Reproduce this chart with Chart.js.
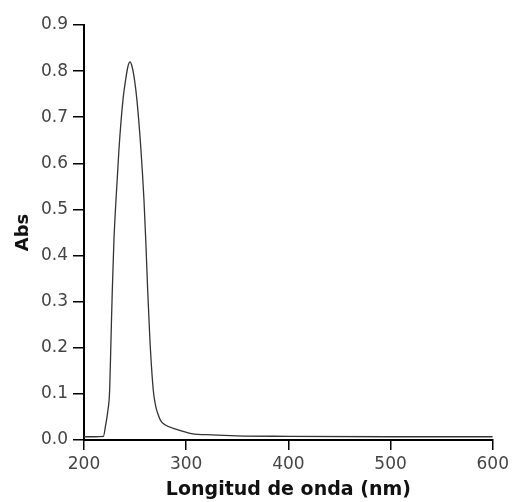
<!DOCTYPE html>
<html lang="es">
<head>
	<meta charset="utf-8">
	<title>Espectro UV-Vis</title>
	<script src="https://cdn.jsdelivr.net/npm/chart.js"></script>
	<style>
		html, body {margin: 0; padding: 0; background: #fff;}
		#caja {width: 513px; height: 502px;}
	</style>
</head>
<body>
	<div id="caja">
		<canvas id="grafico" width="513" height="502"></canvas>
	</div>

<script>
	// longitud de onda (nm) y absorbancia
	const longitud = [200, 210, 219, 221, 223.2, 225.1, 226.4, 227.7, 229.3, 231.3, 234.2, 238.1, 241, 243, 245, 247, 249.5, 251.8, 255.7, 258.7, 260.5, 262.3, 264.5, 267.8, 270, 272.1, 275, 279.2, 292, 305.3, 325, 350, 400, 500, 600];
	const absorbancia = [0.007, 0.007, 0.008, 0.03, 0.061, 0.108, 0.217, 0.325, 0.434, 0.52, 0.63, 0.737, 0.785, 0.81, 0.82, 0.81, 0.78, 0.737, 0.63, 0.52, 0.43, 0.325, 0.217, 0.108, 0.075, 0.058, 0.042, 0.033, 0.022, 0.014, 0.011, 0.009, 0.008, 0.007, 0.007];
	const ticks_x = [200, 300, 400, 500, 600];
	const ticks_y = [0, 0.1, 0.2, 0.3, 0.4, 0.5, 0.6, 0.7, 0.8, 0.9];

	let puntos = [];
	for (let i = 0; i < longitud.length; i++) {
		puntos.push({x: longitud[i], y: absorbancia[i]});
	}

	const fuente = "'DejaVu Sans', sans-serif";

	new Chart(document.getElementById('grafico'), {
		type: 'line',
		data: {
			datasets: [{
				label: 'Abs',
				data: puntos,
				borderColor: '#333',
				borderWidth: 1.3,
				pointRadius: 0,
				cubicInterpolationMode: 'monotone',
				fill: false
			}]
		},
		options: {
			responsive: false,
			animation: false,
			layout: {padding: {top: 25, right: 20, bottom: 0, left: 0}},
			plugins: {legend: {display: false}, tooltip: {enabled: false}},
			scales: {
				x: {
					type: 'linear',
					min: 200, max: 600,
					afterBuildTicks: function(s) { s.ticks = ticks_x.map(v => ({value: v})); },
					afterFit: function(s) { s.height = 62; },
					grid: {drawOnChartArea: false, drawTicks: true, tickLength: 10, color: '#000', lineWidth: 1.5},
					border: {display: true, color: '#000', width: 2},
					ticks: {color: '#444', padding: 4, maxRotation: 0, font: {family: fuente, size: 17}},
					title: {display: true, text: 'Longitud de onda (nm)', color: '#111', padding: {top: 0, bottom: 1}, font: {family: fuente, size: 19, weight: 'bold'}}
				},
				y: {
					min: 0, max: 0.9,
					afterBuildTicks: function(s) { s.ticks = ticks_y.map(v => ({value: v})); },
					afterFit: function(s) { s.width = 84; },
					grid: {drawOnChartArea: false, drawTicks: true, tickLength: 11, color: '#000', lineWidth: 1.5},
					border: {display: true, color: '#000', width: 2},
					ticks: {
						color: '#444', padding: 5, font: {family: fuente, size: 17},
						callback: function(v) { return v.toFixed(1); }
					},
					title: {display: true, text: 'Abs', color: '#111', padding: {top: 13, bottom: 0}, font: {family: fuente, size: 18, weight: 'bold'}}
				}
			}
		}
	});
</script>
</body>
</html>
